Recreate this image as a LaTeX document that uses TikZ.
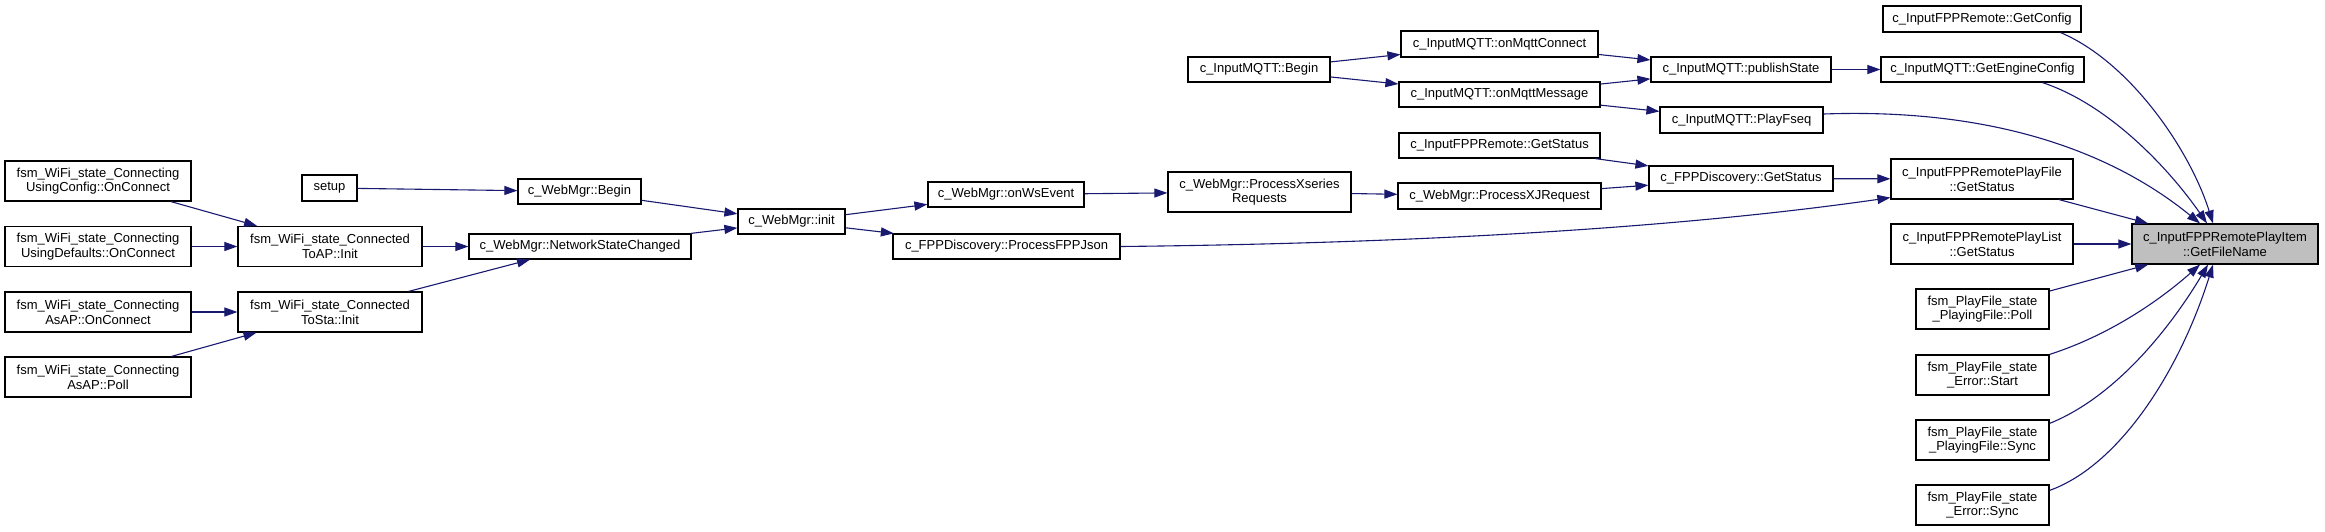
\documentclass[tikz,border=0pt]{standalone}
\usepackage{fontspec}
\setmainfont{Liberation Sans}
\usepackage{xcolor}
\usepackage{tikz}
\usetikzlibrary{arrows.meta}
\definecolor{edge}{HTML}{191970}
\definecolor{frame}{HTML}{000000}
\definecolor{hilite}{HTML}{BFBFBF}
\tikzset{
  fn/.style={draw=frame, fill=white, line width=1.2pt, inner sep=0pt, align=center,
    minimum height=25pt, font=\fontsize{13}{14.7}\selectfont},
  fntwo/.style={fn, minimum height=40pt},
  cur/.style={fntwo, fill=hilite},
  call/.style={draw=edge, line width=1.1pt, -{Triangle[length=13pt,width=9pt]}},
}

\begin{document}
\begin{tikzpicture}[x=1pt,y=-1pt]
  \useasboundingbox (0,0) rectangle (2325,531);
  % callers on the far left
  \node[fntwo, minimum width=186pt] (ucfg) at (98,181) {fsm\_WiFi\_state\_Connecting\\UsingConfig::OnConnect};
  \node[fntwo, minimum width=186pt] (udef) at (98,246.5) {fsm\_WiFi\_state\_Connecting\\UsingDefaults::OnConnect};
  \node[fntwo, minimum width=186pt] (asapc) at (98,312) {fsm\_WiFi\_state\_Connecting\\AsAP::OnConnect};
  \node[fntwo, minimum width=186pt] (asapp) at (98,377) {fsm\_WiFi\_state\_Connecting\\AsAP::Poll};
  \node[fn, minimum width=55pt, minimum height=26pt] (setup) at (329.5,188) {setup};
  \node[fntwo, minimum width=184pt] (toap) at (330,246.5) {fsm\_WiFi\_state\_Connected\\ToAP::Init};
  \node[fntwo, minimum width=184pt] (tosta) at (330,312) {fsm\_WiFi\_state\_Connected\\ToSta::Init};
  % web manager
  \node[fn, minimum width=123pt] (wbegin) at (579.5,191.5) {c\_WebMgr::Begin};
  \node[fn, minimum width=222pt] (netst) at (580,246.5) {c\_WebMgr::NetworkStateChanged};
  \node[fn, minimum width=107pt] (winit) at (791.5,221.5) {c\_WebMgr::init};
  \node[fn, minimum width=156pt] (onws) at (1006,194.5) {c\_WebMgr::onWsEvent};
  \node[fn, minimum width=227pt] (fppjson) at (1006.5,246.5) {c\_FPPDiscovery::ProcessFPPJson};
  \node[fntwo, minimum width=183pt] (xseries) at (1259.5,192) {c\_WebMgr::ProcessXseries\\Requests};
  \node[fn, minimum width=203pt, minimum height=26pt] (xjreq) at (1499.5,196) {c\_WebMgr::ProcessXJRequest};
  % mqtt
  \node[fn, minimum width=142pt] (mqbegin) at (1259,69.5) {c\_InputMQTT::Begin};
  \node[fn, minimum width=197pt, minimum height=26pt] (onmqc) at (1499.5,44) {c\_InputMQTT::onMqttConnect};
  \node[fn, minimum width=201pt] (onmqm) at (1499.5,94.5) {c\_InputMQTT::onMqttMessage};
  \node[fn, minimum width=201pt] (remstat) at (1499.5,145.5) {c\_InputFPPRemote::GetStatus};
  \node[fn, minimum width=180pt] (pubst) at (1741,69.5) {c\_InputMQTT::publishState};
  \node[fn, minimum width=163pt, minimum height=26pt] (playfseq) at (1741.5,120) {c\_InputMQTT::PlayFseq};
  \node[fn, minimum width=184pt] (discstat) at (1741,178.5) {c\_FPPDiscovery::GetStatus};
  % direct callers
  \node[fn, minimum width=198pt, minimum height=26pt] (getcfg) at (1982,19) {c\_InputFPPRemote::GetConfig};
  \node[fn, minimum width=203pt] (getengcfg) at (1982.5,69.5) {c\_InputMQTT::GetEngineConfig};
  \node[fntwo, minimum width=182pt] (pfstat) at (1982,179) {c\_InputFPPRemotePlayFile\\::GetStatus};
  \node[fntwo, minimum width=182pt] (plstat) at (1982,244) {c\_InputFPPRemotePlayList\\::GetStatus};
  \node[fntwo, minimum width=133pt] (pfpoll) at (1982.5,309) {fsm\_PlayFile\_state\\\_PlayingFile::Poll};
  \node[fntwo, minimum width=133pt] (erstart) at (1982.5,375) {fsm\_PlayFile\_state\\\_Error::Start};
  \node[fntwo, minimum width=133pt] (pfsync) at (1982.5,440) {fsm\_PlayFile\_state\\\_PlayingFile::Sync};
  \node[fntwo, minimum width=133pt] (ersync) at (1982.5,505) {fsm\_PlayFile\_state\\\_Error::Sync};
  \node[cur, minimum width=186pt] (getfn) at (2225,244) {c\_InputFPPRemotePlayItem\\::GetFileName};

  \draw[call] (ucfg) -- (toap);
  \draw[call] (udef) -- (toap);
  \draw[call] (asapc) -- (tosta);
  \draw[call] (asapp) -- (tosta);
  \draw[call] (setup) -- (wbegin);
  \draw[call] (toap) -- (netst);
  \draw[call] (tosta) -- (netst);
  \draw[call] (wbegin) -- (winit);
  \draw[call] (netst) -- (winit);
  \draw[call] (winit) -- (onws);
  \draw[call] (winit) -- (fppjson);
  \draw[call] (onws) -- (xseries);
  \draw[call] (xseries) -- (xjreq);
  \draw[call] (xjreq) -- (discstat);
  \draw[call] (remstat) -- (discstat);
  \draw[call] (mqbegin) -- (onmqc);
  \draw[call] (mqbegin) -- (onmqm);
  \draw[call] (onmqc) -- (pubst);
  \draw[call] (onmqm) -- (pubst);
  \draw[call] (onmqm) -- (playfseq);
  \draw[call] (pubst) -- (getengcfg);
  \draw[call] (discstat) -- (pfstat);
  \draw[call] (fppjson.east) .. controls (1450,243) and (1700,225) .. ([yshift=2pt]pfstat.south west);
  % into the highlighted function
  \draw[call] ([xshift=-21pt]getcfg.south east) .. controls (2130,62) and (2190,150) .. ([xshift=-12pt]getfn.north);
  \draw[call] ([xshift=60pt]getengcfg.south) .. controls (2110,105) and (2170,170) .. ([xshift=-18pt]getfn.north);
  \draw[call] ([yshift=6pt]playfseq.east) .. controls (1990,108) and (2110,150) .. ([xshift=-25pt]getfn.north);
  \draw[call] (pfstat) -- (getfn);
  \draw[call] (plstat) -- (getfn);
  \draw[call] (pfpoll) -- (getfn);
  \draw[call] (erstart.north east) .. controls (2110,335) and (2160,300) .. ([xshift=-25pt]getfn.south);
  \draw[call] ([yshift=-4pt]pfsync.north east) .. controls (2120,395) and (2175,320) .. ([xshift=-17pt]getfn.south);
  \draw[call] ([yshift=-6pt]ersync.north east) .. controls (2120,465) and (2180,370) .. ([xshift=-12pt]getfn.south);
\end{tikzpicture}
\end{document}
